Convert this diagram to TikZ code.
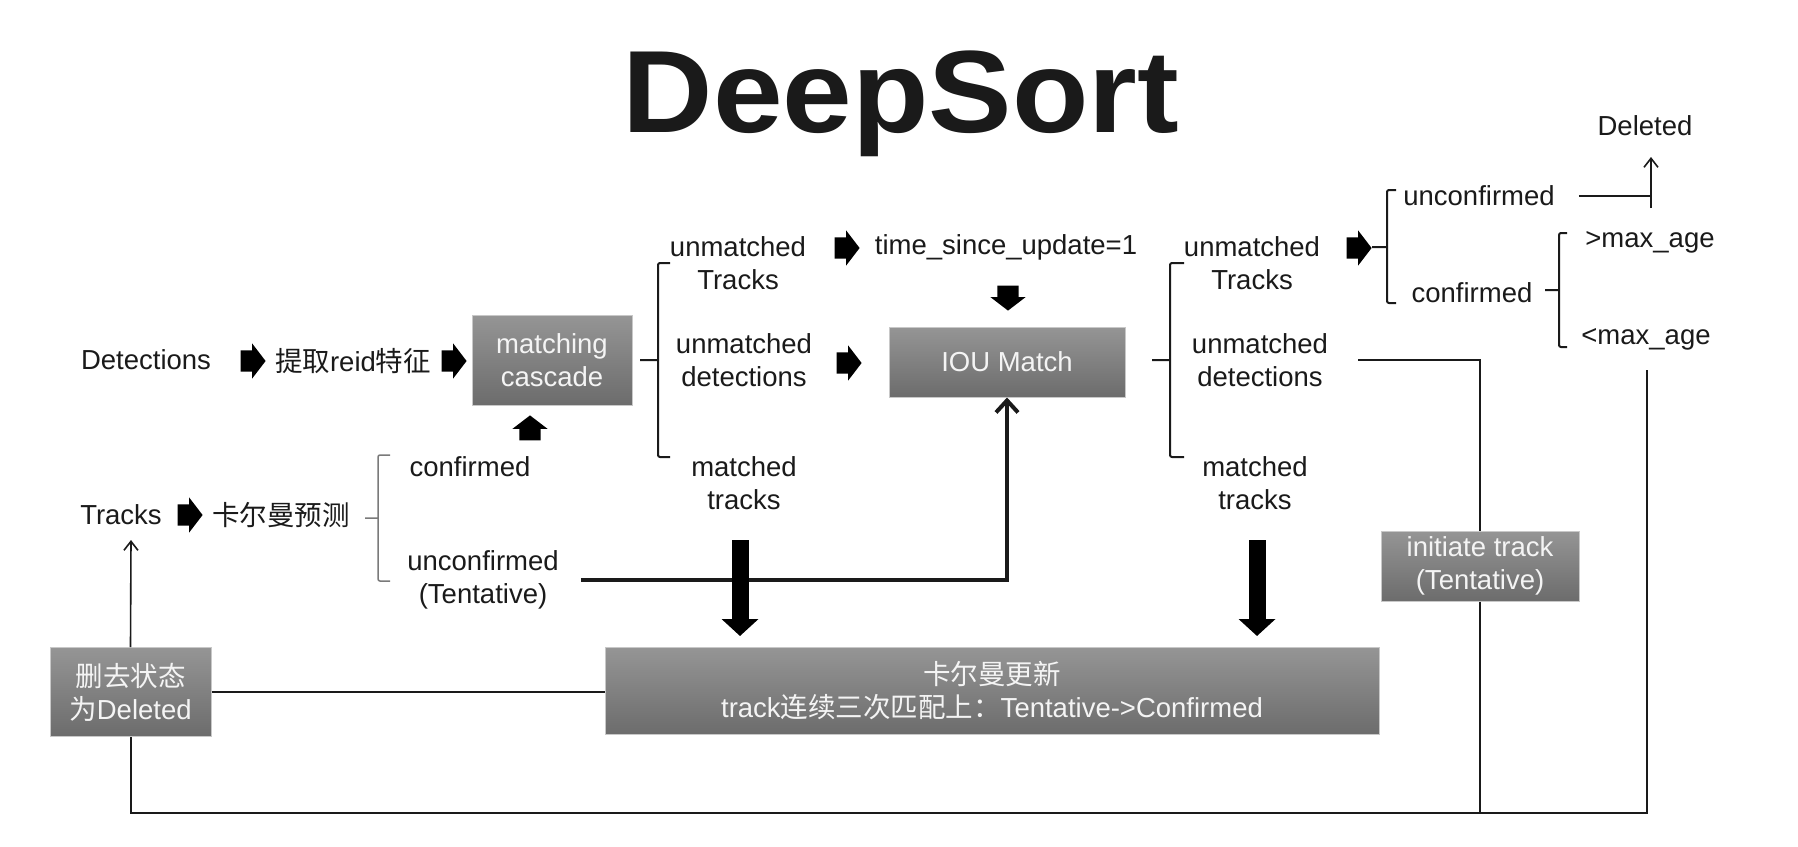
\documentclass[tikz,border=0pt]{standalone}
\usepackage{fontspec}
\setmainfont{Liberation Sans}
\newfontfamily\cjk{Noto Sans CJK SC}
\newfontfamily\titlefont{Liberation Sans}[FakeStretch=1.07]
\usetikzlibrary{arrows.meta,shapes.arrows}
\definecolor{ink}{HTML}{1A1A1A}
\definecolor{boxtop}{HTML}{959595}
\definecolor{boxbot}{HTML}{6C6C6C}
\definecolor{boxedge}{HTML}{C8C8C8}
\definecolor{boxtext}{HTML}{F4F4F4}
\definecolor{bracegray}{HTML}{7A7A7A}
\begin{document}
\begin{tikzpicture}[x=1pt,y=-1pt,
  txt/.style={font=\fontsize{27.5}{33}\selectfont, align=center, inner sep=0pt, text=ink},
  gbox/.style={draw=boxedge, line width=1pt, top color=boxtop, bottom color=boxbot, text=boxtext, font=\fontsize{27.5}{33}\selectfont, align=center, inner sep=0pt},
  blk/.style={single arrow, fill=black, draw=none, minimum height=25pt, minimum width=35pt, single arrow head extend=7pt, single arrow tip angle=105, inner sep=0pt},
  ln/.style={draw=ink, line width=2pt},
  brc/.style={draw=ink, line width=2pt, rounded corners=2pt},
  thinarr/.style={draw=ink, line width=1.6pt, -{Straight Barb[length=9pt,width=14pt]}},
  thkarr/.style={draw=ink, line width=4pt, -{Straight Barb[length=12pt,width=22pt]}},
  bigarr/.style={draw=black, line width=17pt, -{Triangle[length=17pt,width=36pt]}},
]
\newcommand{\shaft}{\rule{0pt}{21pt}}
\useasboundingbox (0,0) rectangle (1798,846);
\fill[white] (0,0) rectangle (1798,846);

% title
\node[anchor=base, text=ink, inner sep=0pt, font=\titlefont\fontsize{117}{120}\selectfont\bfseries] (title) at (901,132) {DeepSort};

% row 1
\node[txt] (det) at (146,360) {Detections};
\node[blk] (ba1) at (249,361) {\shaft};
\node[txt] (reid) at (353,361) {{\cjk 提取}reid{\cjk 特征}};
\node[blk] (ba2) at (450,361) {\shaft};
\node[gbox, minimum width=160pt, minimum height=90pt] (mc) at (552,360) {matching\\cascade};

\node[txt] (umt1) at (738,263) {unmatched\\Tracks};
\node[blk] (ba3) at (843,248) {\shaft};
\node[txt] (tsu) at (1006,247) {time\_since\_update=1};
\node[blk, rotate=-90] (ba7) at (1008,294) {\shaft};
\node[txt] (umd1) at (744,360) {unmatched\\detections};
\node[blk] (ba4) at (845,363) {\shaft};
\node[gbox, minimum width=236pt, minimum height=70pt] (iou) at (1007,362) {IOU Match};
\node[txt] (mt1) at (744,483) {matched\\tracks};

% tracks row
\node[blk, rotate=90] (ba8) at (530,432) {\shaft};
\node[txt] (conf) at (470,467) {confirmed};
\node[txt] (unconf) at (483,580) {unconfirmed\\(Tentative)};
\node[txt] (tracks) at (121,515) {Tracks};
\node[blk] (ba5) at (186,515) {\shaft};
\node[txt] (kfp) at (281,515) {\cjk 卡尔曼预测};

% bottom boxes
\node[gbox, minimum width=161pt, minimum height=89pt] (del) at (130.5,692) {{\cjk 删去状态}\\{\cjk 为}Deleted};
\node[gbox, minimum width=774pt, minimum height=87pt] (kfu) at (992,691) {{\cjk 卡尔曼更新}\\track{\cjk 连续三次匹配上：}Tentative->Confirmed};

% right part
\node[txt] (umt2) at (1252,263) {unmatched\\Tracks};
\node[txt] (umd2) at (1260,360) {unmatched\\detections};
\node[txt] (mt2) at (1255,483) {matched\\tracks};
\node[blk] (ba6) at (1355,248) {\shaft};
\node[txt] (unc2) at (1479,196) {unconfirmed};
\node[txt] (conf2) at (1472,293) {confirmed};
\node[txt] (gt) at (1650,242) {>max\_age};
\node[txt] (lt) at (1646,339) {<max\_age};
\node[txt] (deleted) at (1645,126) {Deleted};
\node[gbox, minimum width=198pt, minimum height=70pt] (init) at (1480,566) {initiate track\\(Tentative)};

% braces
\draw[brc] (640,360) -- (658,360) (670,263) -- (658,263) -- (658,457) -- (670,457);
\draw[brc, draw=bracegray, line width=1.5pt] (365,518) -- (378,518) (390,455) -- (378,455) -- (378,581) -- (390,581);
\draw[brc] (1152,360) -- (1170,360) (1184,263) -- (1170,263) -- (1170,457) -- (1184,457);
\draw[brc] (1372,247) -- (1387,247) (1396,190) -- (1387,190) -- (1387,303) -- (1396,303);
\draw[brc] (1545,290) -- (1559,290) (1567,233) -- (1559,233) -- (1559,347) -- (1567,347);

% connectors
\coordinate (trkIn) at (131,540);
\draw[thinarr] (del.north) -- (trkIn);
\draw[ln] (del.east) -- (del.east -| kfu.west);
\coordinate (botR) at (1647,813);
\coordinate (ltDown) at (1647,370);
\draw[ln] (ltDown) -- (botR) -| (del.south);
\draw[ln] ([xshift=30pt]umd2.east) -| (init.north);
\draw[ln] (init.south) -- (init.south |- botR);
\coordinate (tee) at (1651,196);
\draw[ln] ([xshift=24pt]unc2.east) -- (tee);
\coordinate (teeLow) at (1651,208);
\coordinate (delIn) at (1651,157);
\draw[thinarr] (teeLow) -- (delIn);
\draw[thkarr] ([xshift=22pt]unconf.east) -| (iou.south);
\coordinate (bl) at (740,540);
\coordinate (br) at (1257,540);
\draw[bigarr, shorten >=11pt] (bl) -- (bl |- kfu.north);
\draw[bigarr, shorten >=11pt] (br) -- (br |- kfu.north);
\end{tikzpicture}
\end{document}
